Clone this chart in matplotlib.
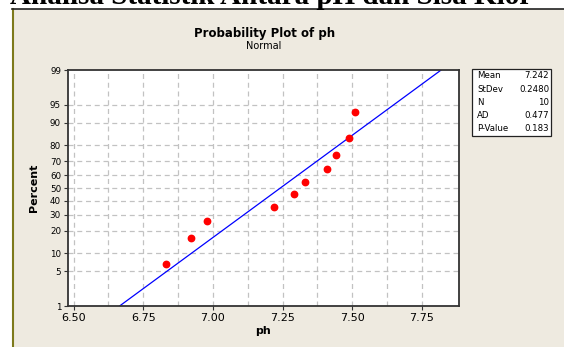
from statistics import NormalDist
import matplotlib
matplotlib.use("Agg")
import matplotlib.pyplot as plt
from matplotlib.patches import Rectangle

# data (ph values, sorted) and plotting positions (percent)
ph = [6.83, 6.92, 6.98, 7.22, 7.29, 7.33, 7.41, 7.44, 7.49, 7.51]
percent = [6.7, 16.3, 26.0, 35.6, 45.2, 54.8, 64.4, 74.0, 83.7, 93.3]
mean = 7.242
stdev = 0.2480
stat_names = ["Mean", "StDev", "N", "AD", "P-Value"]
stat_values = ["7.242", "0.2480", "10", "0.477", "0.183"]
y_ticks = [1, 5, 10, 20, 30, 40, 50, 60, 70, 80, 90, 95, 99]
x_ticks = [6.50, 6.75, 7.00, 7.25, 7.50, 7.75]

nd = NormalDist()
def z(p):
    return nd.inv_cdf(p / 100.0)

W, H = 564, 347
fig = plt.figure(figsize=(W / 100, H / 100), dpi=100)
fig.patch.set_facecolor("white")

def fx(px):
    return px / W
def fy(py):
    return 1 - py / H

# beige minitab panel with borders
panel = Rectangle((fx(12), 0), 1 - fx(12), fy(9), transform=fig.transFigure,
                  facecolor="#EEEAE0", edgecolor="none", zorder=-5)
fig.patches.append(panel)
fig.add_artist(plt.Line2D([fx(12.5), fx(12.5)], [0, fy(9)], color="#7D7A1C", lw=1.5,
                          transform=fig.transFigure, zorder=-4))
fig.add_artist(plt.Line2D([fx(12), 1], [fy(8.5), fy(8.5)], color="#222222", lw=1.2,
                          transform=fig.transFigure, zorder=-4))

# cut-off heading of the document
fig.text(fx(10), fy(3.5), "Analisa Statistik Antara pH dan Sisa Klor",
         family="Liberation Serif", weight="bold", fontsize=21, ha="left", va="baseline")

ax = fig.add_axes([fx(68), fy(306), fx(459) - fx(68), fy(70) - fy(306)])
ax.set_zorder(2)
ax.set_facecolor("white")

ylo, yhi = z(1), z(99)
ax.set_ylim(ylo, yhi)
ax.set_xlim(6.48, 7.883)

# grid
for gx in [6.5 + 0.125 * i for i in range(11)]:
    ax.axvline(gx, color="#C2C2C2", lw=0.9, ls=(0, (4, 3)), zorder=1)
for t in y_ticks[1:-1]:
    ax.axhline(z(t), color="#C2C2C2", lw=0.9, ls=(0, (4, 3)), zorder=1)

# fitted line
x0 = mean + stdev * ylo
x1 = mean + stdev * yhi
ax.plot([x0, x1], [ylo, yhi], color="#0000FF", lw=0.9, zorder=2)

ax.plot(ph, [z(p) for p in percent], "o", color="#FF0000", ms=4.6, mec="#FF0000", zorder=3)

ax.set_yticks([z(t) for t in y_ticks])
ax.set_yticklabels([str(t) for t in y_ticks], fontsize=6.3)
ax.set_xticks(x_ticks)
ax.set_xticklabels(["%.2f" % v for v in x_ticks], fontsize=8)
ax.tick_params(axis="both", direction="out", length=3, width=0.8, color="#333333", pad=2)

for s in ax.spines.values():
    s.set_color("#333333")
    s.set_linewidth(1.3)

ax.set_xlabel("ph", fontsize=8, weight="bold", labelpad=2)
ax.set_ylabel("Percent", fontsize=8, weight="bold", labelpad=8)

fig.text(fx(265), fy(33), "Probability Plot of ph", fontsize=8.5, weight="bold",
         ha="center", va="center")
fig.text(fx(264), fy(46), "Normal", fontsize=7, ha="center", va="center")

# stats box
box = Rectangle((fx(472), fy(136)), fx(551) - fx(472), fy(69) - fy(136),
                transform=fig.transFigure, facecolor="white", edgecolor="#222222", lw=0.9)
fig.patches.append(box)
for i, (n, v) in enumerate(zip(stat_names, stat_values)):
    yy = fy(76 + 13.2 * i)
    fig.text(fx(477), yy, n, fontsize=6.2, ha="left", va="center")
    fig.text(fx(549), yy, v, fontsize=6.2, ha="right", va="center")

plt.savefig("out.png", dpi=100)
